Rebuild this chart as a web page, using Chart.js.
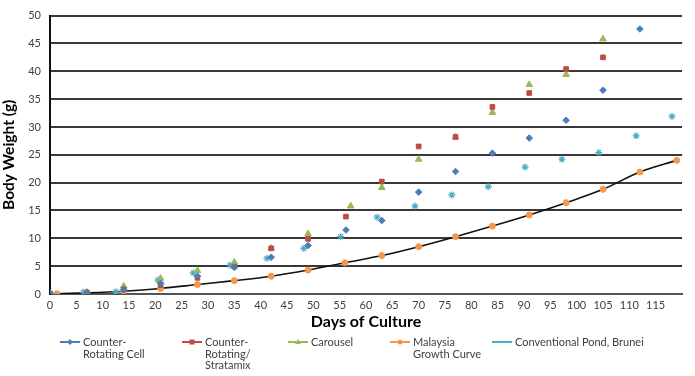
<!DOCTYPE html>
<html>
<head>
<meta charset="utf-8">
<script src="https://cdn.jsdelivr.net/npm/chart.js@4/dist/chart.umd.min.js"></script>
<style>
  body { margin: 0; background: #fff; }
  #wrap { position: relative; width: 695px; height: 376px; }
  #legend { position: absolute; left: 0; top: 336px; width: 695px; height: 40px;
            font-family: Lato, "Open Sans", sans-serif; font-size: 11px; line-height: 11.5px; color: #404040; }
  .item { position: absolute; top: 0; display: flex; align-items: flex-start; }
  .item svg { margin-top: 0px; margin-right: 3px; }
</style>
</head>
<body>
<div id="wrap">
  <canvas id="myChart" width="695" height="376"></canvas>
  <div id="legend"></div>
</div>
<script>
// Counter-Rotating Cell
var cellDays   = [0, 7, 14, 21, 28, 35, 42, 49, 56.2, 63, 70, 77, 84, 91, 98, 105, 112];
var cellWeight = [0.1, 0.2, 0.8, 1.9, 3.2, 4.8, 6.6, 8.7, 11.5, 13.2, 18.3, 22.0, 25.3, 28.0, 31.2, 36.6, 47.6];
// Counter-Rotating/Stratamix
var stratDays   = [0, 7, 14, 21, 28, 35, 42, 49, 56.2, 63, 70, 77, 84, 91, 98, 105];
var stratWeight = [0.1, 0.3, 0.8, 1.6, 2.9, 4.9, 8.2, 9.9, 13.9, 20.2, 26.5, 28.2, 33.6, 36.1, 40.4, 42.5];
// Carousel
var carDays   = [0, 7, 14, 21, 28, 35, 42, 49, 57.1, 63, 70, 77, 84, 91, 98, 105];
var carWeight = [0.1, 0.3, 1.4, 2.8, 4.2, 5.7, 8.2, 10.8, 15.8, 19.1, 24.2, 28.2, 32.6, 37.6, 39.4, 45.8];
// Malaysia Growth Curve
var malDays   = [1.3, 7, 14, 21, 28, 35, 42, 49, 56, 63, 70, 77, 84, 91, 98, 105, 112, 119];
var malWeight = [0.05, 0.2, 0.5, 1.0, 1.7, 2.4, 3.2, 4.3, 5.6, 6.9, 8.5, 10.3, 12.2, 14.2, 16.4, 18.8, 21.9, 24.0];
// Conventional Pond, Brunei
var pondDays   = [0, 6.3, 12.5, 20.5, 27.2, 34.2, 41.2, 48.2, 55.2, 62.1, 69.3, 76.3, 83.2, 90.2, 97.2, 104.2, 111.3, 118.1];
var pondWeight = [0.1, 0.3, 0.4, 2.5, 3.8, 5.2, 6.4, 8.2, 10.3, 13.8, 15.8, 17.8, 19.3, 22.8, 24.2, 25.4, 28.4, 31.9];

var yTicks = [0, 5, 10, 15, 20, 25, 30, 35, 40, 45, 50];

function pts(xs, ys) {
  return xs.map(function (x, i) { return { x: x, y: ys[i] }; });
}

var series = [
  { label: ['Counter-', 'Rotating Cell'], days: cellDays, w: cellWeight, color: '#4a7ebb', style: 'rectRot', r: 3.3 },
  { label: ['Counter-', 'Rotating/', 'Stratamix'], days: stratDays, w: stratWeight, color: '#be4b48', style: 'rect', r: 3.3 },
  { label: ['Carousel'], days: carDays, w: carWeight, color: '#98b954', style: 'triangle', r: 3.8 },
  { label: ['Malaysia', 'Growth Curve'], days: malDays, w: malWeight, color: '#f79646', style: 'circle', r: 3 },
  { label: ['Conventional Pond, Brunei'], days: pondDays, w: pondWeight, color: '#4bacc6', style: 'star', r: 3.5 }
];

var datasets = series.map(function (s) {
  return {
    label: s.label.join(' '),
    data: pts(s.days, s.w),
    showLine: false,
    pointStyle: s.style,
    pointRadius: s.r,
    pointBackgroundColor: s.color,
    pointBorderColor: s.color,
    pointBorderWidth: s.style === 'star' ? 1.2 : 1,
    order: 1
  };
});
// black trend curve through the Malaysia points
datasets.push({
  label: 'trend',
  data: pts([0].concat(malDays.slice(1)), [0].concat(malWeight.slice(1))),
  showLine: true,
  borderColor: '#111',
  borderWidth: 1.6,
  pointRadius: 0,
  cubicInterpolationMode: 'monotone',
  order: 10
});

var font = 'Lato, "Open Sans", sans-serif';
var ctx = document.getElementById('myChart').getContext('2d');
var myChart = new Chart(ctx, {
  type: 'scatter',
  data: { datasets: datasets },
  options: {
    responsive: false,
    animation: false,
    layout: { padding: { top: 8, right: 13, bottom: 45, left: 0 } },
    plugins: { legend: { display: false }, tooltip: { enabled: false } },
    scales: {
      x: {
        type: 'linear', min: 0, max: 120,
        grid: { display: false, drawTicks: false },
        border: { display: true, color: '#555', width: 2 },
        ticks: {
          stepSize: 5, autoSkip: false, maxRotation: 0, padding: 5,
          color: '#404040', font: { family: font, size: 11 },
          callback: function (v) { return v >= 120 ? '' : v; }
        },
        title: { display: true, text: 'Days of Culture', color: '#000',
                 font: { family: font, size: 16, weight: 'bold' }, padding: 0 },
        afterFit: function (s) { s.height = 37; }
      },
      y: {
        min: 0, max: 50,
        afterBuildTicks: function (s) { s.ticks = yTicks.map(function (v) { return { value: v }; }); },
        grid: { color: '#383838', lineWidth: 2, drawTicks: false },
        border: { display: true, color: '#111', width: 2 },
        ticks: { padding: 9, color: '#404040', font: { family: font, size: 11 } },
        title: { display: true, text: 'Body Weight (g)', color: '#000',
                 font: { family: font, size: 15.5, weight: 'bold' }, padding: 0 },
        afterFit: function (s) { s.width = 50; }
      }
    }
  }
});

// legend with multi-line labels
var legendX = [60, 182, 288, 390, 492];
var legend = document.getElementById('legend');
series.forEach(function (s, i) {
  var item = document.createElement('div');
  item.className = 'item';
  item.style.left = legendX[i] + 'px';
  var m = '';
  if (s.style === 'rectRot') m = '<polygon points="10,3 13,6 10,9 7,6" fill="' + s.color + '"/>';
  else if (s.style === 'rect') m = '<rect x="7.5" y="3.5" width="5" height="5" fill="' + s.color + '"/>';
  else if (s.style === 'triangle') m = '<polygon points="10,3 13,8 7,8" fill="' + s.color + '"/>';
  else if (s.style === 'circle') m = '<circle cx="10" cy="6" r="2.5" fill="' + s.color + '"/>';
  var svg = '<svg width="20" height="12"><line x1="0" y1="6" x2="20" y2="6" stroke="' + s.color +
            '" stroke-width="2"/>' + m + '</svg>';
  item.innerHTML = svg + '<div>' + s.label.join('<br>') + '</div>';
  legend.appendChild(item);
});
</script>
</body>
</html>
